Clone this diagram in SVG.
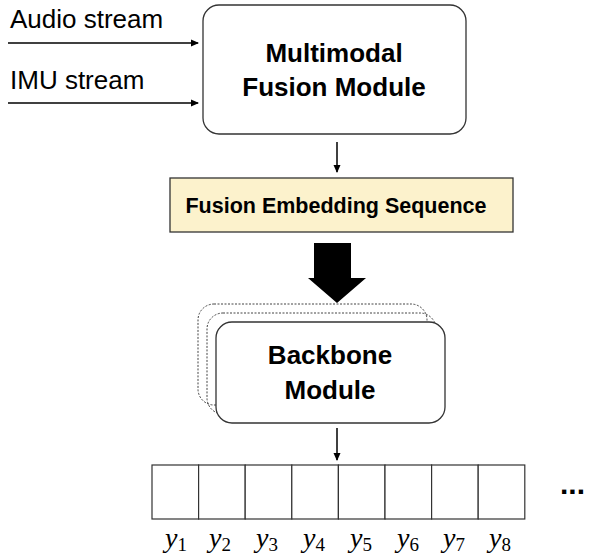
<svg xmlns="http://www.w3.org/2000/svg" width="591" height="560" viewBox="0 0 591 560">
<style>
.lbl{font-family:"Liberation Sans",Arial,sans-serif;font-size:26px;fill:#000}
.bold{font-family:"Liberation Sans",Arial,sans-serif;font-weight:bold;fill:#000}
.box{fill:#fff;stroke:#333;stroke-width:1.3}
.dot{fill:none;stroke:#444;stroke-width:1;stroke-dasharray:2,1.5}
.ln{stroke:#000;stroke-width:1.5;fill:none}
.cell{fill:#fff;stroke:#333;stroke-width:1.2}
.yl{font-family:"Liberation Serif","Times New Roman",serif;font-style:italic;font-size:28px;fill:#000}
.sub{font-style:normal;font-size:19px}
</style>
<defs>
<marker id="ah" markerWidth="8" markerHeight="8" refX="7" refY="4" orient="auto" markerUnits="userSpaceOnUse">
<path d="M0,0.5 L8,4 L0,7.5 Z" fill="#000"/>
</marker>
</defs>
<text class="lbl" x="10" y="28">Audio stream</text>
<text class="lbl" x="10" y="89">IMU stream</text>
<g id="connectors">
<line class="ln" x1="8" y1="43" x2="198" y2="43" marker-end="url(#ah)"/>
<line class="ln" x1="8" y1="103" x2="198" y2="103" marker-end="url(#ah)"/>
<line class="ln" x1="337" y1="142" x2="337" y2="172" marker-end="url(#ah)"/>
<polygon points="314,243 351,243 351,278 366,278 337,303 308,278 314,278" fill="#000"/>
<line class="ln" x1="337" y1="428" x2="337" y2="460" marker-end="url(#ah)"/>
</g>
<g id="multimodal">
<rect class="box" x="203" y="5" width="263" height="129" rx="16"/>
<text class="bold" font-size="26" x="334" y="62" text-anchor="middle">Multimodal</text>
<text class="bold" font-size="26" x="334" y="96" text-anchor="middle">Fusion Module</text>
</g>
<g id="fusion-embedding">
<rect x="170" y="178" width="343" height="54" fill="#fcf2cc" stroke="#333" stroke-width="1.3"/>
<text class="bold" font-size="21.5" x="336" y="213" text-anchor="middle">Fusion Embedding Sequence</text>
</g>
<g id="backbone">
<rect class="dot" x="198" y="304" width="229" height="101" rx="16"/>
<rect class="dot" x="207" y="313" width="229" height="101" rx="16"/>
<rect class="box" x="216" y="322" width="229" height="101" rx="16"/>
<text class="bold" font-size="26" x="330" y="364" text-anchor="middle">Backbone</text>
<text class="bold" font-size="26" x="330" y="399" text-anchor="middle">Module</text>
</g>
<g id="outputs">
<rect class="cell" x="152" y="465" width="46.6" height="54"/>
<rect class="cell" x="198.6" y="465" width="46.6" height="54"/>
<rect class="cell" x="245.2" y="465" width="46.6" height="54"/>
<rect class="cell" x="291.8" y="465" width="46.6" height="54"/>
<rect class="cell" x="338.4" y="465" width="46.6" height="54"/>
<rect class="cell" x="385" y="465" width="46.6" height="54"/>
<rect class="cell" x="431.6" y="465" width="46.6" height="54"/>
<rect class="cell" x="478.2" y="465" width="46.6" height="54"/>
<text class="yl" x="165" y="547">y<tspan class="sub" dy="4">1</tspan></text>
<text class="yl" x="209" y="547">y<tspan class="sub" dy="4">2</tspan></text>
<text class="yl" x="256" y="547">y<tspan class="sub" dy="4">3</tspan></text>
<text class="yl" x="303" y="547">y<tspan class="sub" dy="4">4</tspan></text>
<text class="yl" x="350" y="547">y<tspan class="sub" dy="4">5</tspan></text>
<text class="yl" x="397" y="547">y<tspan class="sub" dy="4">6</tspan></text>
<text class="yl" x="443" y="547">y<tspan class="sub" dy="4">7</tspan></text>
<text class="yl" x="489" y="547">y<tspan class="sub" dy="4">8</tspan></text>
<text class="bold" font-size="30" x="560" y="494">...</text>
</g>
</svg>
